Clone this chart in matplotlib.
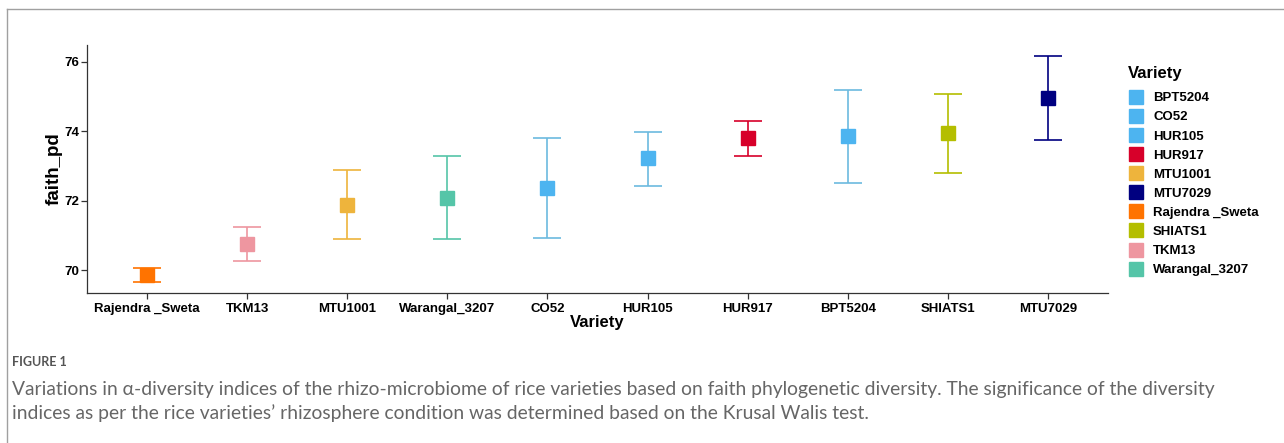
import matplotlib
matplotlib.use("Agg")
import matplotlib.pyplot as plt
from matplotlib.lines import Line2D

varieties = ["Rajendra _Sweta", "TKM13", "MTU1001", "Warangal_3207", "CO52",
             "HUR105", "HUR917", "BPT5204", "SHIATS1", "MTU7029"]
means = [69.86, 70.74, 71.88, 72.09, 72.38, 73.23, 73.82, 73.88, 73.95, 74.96]
lower = [69.66, 70.25, 70.89, 70.90, 70.93, 72.42, 73.30, 72.52, 72.80, 73.75]
upper = [70.07, 71.24, 72.88, 73.28, 73.80, 73.98, 74.30, 75.19, 75.07, 76.18]

colors = {
    "BPT5204": "#4DB4F0",
    "CO52": "#4DB4F0",
    "HUR105": "#4DB4F0",
    "HUR917": "#D7002A",
    "MTU1001": "#EEB43C",
    "MTU7029": "#000080",
    "Rajendra _Sweta": "#FF7300",
    "SHIATS1": "#B4BE00",
    "TKM13": "#EE96A0",
    "Warangal_3207": "#55C5A8",
}
bar_colors = {
    "BPT5204": "#6CBADF",
    "CO52": "#6CBADF",
    "HUR105": "#6CBADF",
}
legend_order = sorted(colors.keys(), key=lambda s: s.lower())

plt.rcParams["font.family"] = ["Liberation Sans", "DejaVu Sans"]

fig = plt.figure(figsize=(12.84, 4.43), dpi=100)
ax = fig.add_axes([87/1284, 1 - 293/443, (1108-87)/1284, (293-45)/443])

for i, v in enumerate(varieties):
    x = i + 1
    ec = bar_colors.get(v, colors[v])
    ax.errorbar([x], [means[i]],
                yerr=[[means[i] - lower[i]], [upper[i] - means[i]]],
                fmt="none", ecolor=ec, elinewidth=1.2, capsize=10, capthick=1.2, zorder=2)
    ax.plot([x], [means[i]], marker="s", markersize=10, color=colors[v],
            linestyle="none", zorder=3)

ax.set_xlim(0.4, 10.6)
ax.set_ylim(69.34, 76.49)
ax.set_xticks(range(1, len(varieties) + 1))
ax.set_xticklabels(varieties, fontsize=9.5, fontweight="bold")
ax.set_yticks([70, 72, 74, 76])
ax.set_yticklabels(["70", "72", "74", "76"], fontsize=9.5, fontweight="bold")
ax.tick_params(axis="both", direction="out", length=4, width=0.9, color="#333333")
ax.tick_params(axis="y", pad=1.5)
for s in ["top", "right"]:
    ax.spines[s].set_visible(False)
for s in ["left", "bottom"]:
    ax.spines[s].set_color("#333333")
    ax.spines[s].set_linewidth(0.9)
ax.set_xlabel("Variety", fontsize=12, fontweight="bold", labelpad=0)
ax.set_ylabel("faith_pd", fontsize=13.5, fontweight="bold", labelpad=1)

handles = [Line2D([], [], marker="s", markersize=10, color=colors[v], linestyle="none")
           for v in legend_order]
leg = fig.legend(handles, legend_order, loc="upper left",
                 bbox_to_anchor=(1128/1284, 1 - 66/443), frameon=False,
                 title="Variety", prop={"size": 9.5, "weight": "bold"},
                 title_fontproperties={"size": 12, "weight": "bold"},
                 labelspacing=0.52, handletextpad=0.7, handlelength=1.2,
                 borderaxespad=0, borderpad=0)
leg._legend_box.align = "left"
leg._legend_box.sep = 8

# outer frame of the figure panel
fig.add_artist(Line2D([7/1284, 1], [1 - 9/443, 1 - 9/443], color="#A0A0A0", linewidth=1))
fig.add_artist(Line2D([7/1284, 7/1284], [0, 1 - 9/443], color="#A0A0A0", linewidth=1))

cap_font = ["Lato", "DejaVu Sans"]
fig.text(12/1284, 1 - 362/443, "FIGURE 1", fontsize=9, color="#555555",
         family=cap_font, fontweight="bold", va="center")
fig.text(12/1284, 1 - 389/443,
         "Variations in \u03b1-diversity indices of the rhizo-microbiome of rice varieties based on faith "
         "phylogenetic diversity. The significance of the diversity",
         fontsize=13.85, color="#666666", family=cap_font, va="center")
fig.text(12/1284, 1 - 413/443,
         "indices as per the rice varieties\u2019 rhizosphere condition was determined based on the "
         "Krusal Walis test.",
         fontsize=13.85, color="#666666", family=cap_font, va="center")

fig.savefig("out.png", dpi=100)
